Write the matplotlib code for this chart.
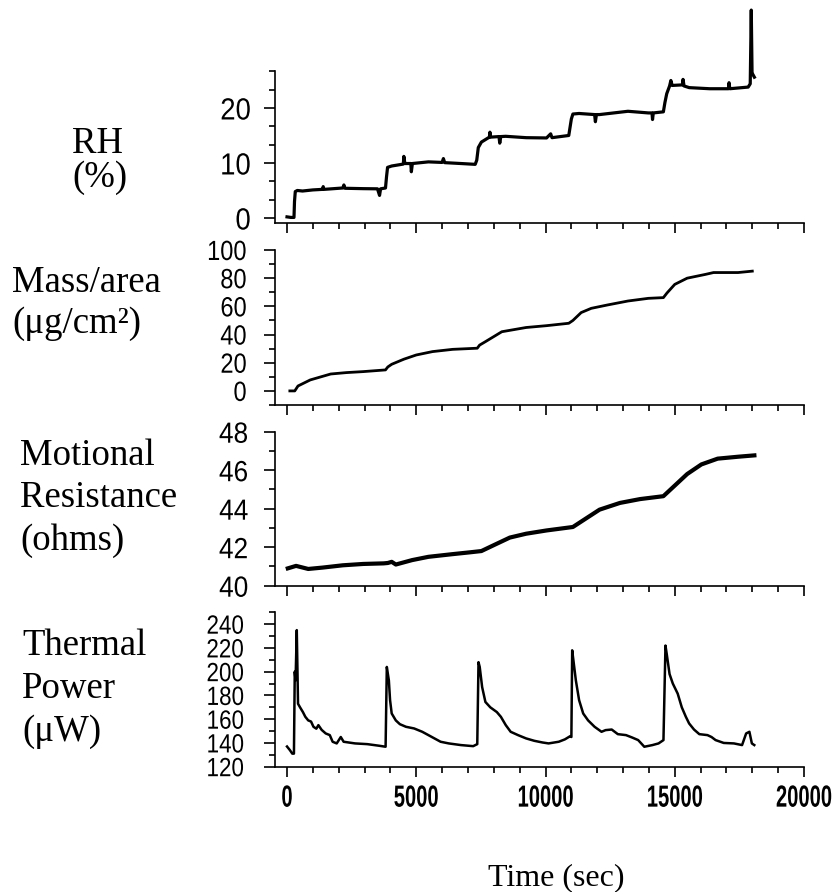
import matplotlib
matplotlib.use("Agg")
import matplotlib.pyplot as plt
from matplotlib.ticker import MultipleLocator, NullFormatter
from matplotlib.patheffects import AbstractPathEffect
from matplotlib.transforms import Affine2D

# ---------------- data ----------------
rh_t = [0, 150, 270, 290, 320, 400, 600, 1000, 1370, 1400, 1430, 2160, 2200, 2240,
        2950, 3500, 3580, 3620, 3810, 3850, 3890, 4050, 4500, 4520, 4560, 4790,
        4810, 4850, 5470, 6000, 6050, 6100, 6730, 7280, 7340, 7400, 7520, 7830,
        7850, 7880, 8200, 8230, 8270, 8460, 9250, 10040, 10200, 10250, 10900,
        10950, 11000, 11060, 11300, 11900, 11930, 11970, 12090, 13190, 13980,
        14120, 14140, 14170, 14560, 14620, 14690, 14800, 14850, 14900, 15300,
        15320, 15360, 15560, 16350, 17080, 17100, 17130, 17840, 17920, 17960,
        17990, 18010, 18080]
rh = [0.2, 0.1, 0.1, 3.0, 4.8, 5.0, 4.9, 5.1, 5.2, 5.7, 5.2, 5.45, 6.0, 5.4,
      5.33, 5.3, 4.1, 5.3, 5.45, 7.5, 9.2, 9.45, 9.8, 11.2, 9.9, 9.9,
      8.4, 9.9, 10.2, 10.1, 10.8, 10.06, 9.9, 9.75, 10.5, 12.8, 13.8, 14.7,
      15.6, 14.7, 14.8, 13.6, 14.8, 14.85, 14.6, 14.55, 15.3, 14.6, 15.0,
      16.5, 18.0, 18.9, 19.0, 18.8, 17.5, 18.8, 18.8, 19.4, 19.1,
      19.1, 17.9, 19.1, 19.3, 21.0, 22.6, 24.0, 25.0, 24.1, 24.2,
      25.2, 24.0, 23.7, 23.5, 23.5, 24.6, 23.5, 23.8, 24.4, 37.8,
      26.5, 26.2, 25.6]

mass_t = [110, 300, 425, 900, 1690, 2300, 2950, 3810, 3900, 4050, 4520, 5000,
          5630, 6410, 7360, 7450, 7680, 8310, 9250, 10040, 10900, 11060, 11380,
          11770, 12400, 13190, 13980, 14560, 14700, 15000, 15480, 16190, 16500,
          17450, 18000]
mass = [0, 0, 3.5, 7.8, 12, 13.0, 13.7, 14.9, 17.0, 18.9, 22.5, 25.5,
        27.9, 29.5, 30.3, 32.5, 35, 42, 45, 46.3, 48, 50, 55.6,
        58.6, 61, 63.8, 65.7, 66.2, 69.5, 75.6, 80, 82.7, 84,
        84, 85]

res_t = [30, 350, 820, 1370, 2160, 2950, 3740, 3900, 4050, 4210, 4840, 5470,
         6410, 7050, 7520, 7990, 8620, 9250, 10040, 11060, 11460, 12090, 12880,
         13660, 14560, 15000, 15480, 16030, 16660, 17450, 18080]
res = [40.9, 41.03, 40.87, 40.94, 41.06, 41.13, 41.16, 41.18, 41.24, 41.1,
       41.33, 41.5, 41.64, 41.73, 41.8, 42.1, 42.5, 42.7, 42.87, 43.05, 43.4,
       43.95, 44.3, 44.5, 44.65, 45.2, 45.8, 46.3, 46.6, 46.7, 46.77]

pow_t = [0, 110, 205, 268, 300, 331, 378, 426, 504, 615, 709, 820, 930, 1024,
         1135, 1214, 1340, 1497, 1655, 1765, 1923, 2080, 2191, 2632, 3105, 3578,
         3814, 3861, 3940, 3987, 4050, 4208, 4366, 4602, 4917, 5232, 5469, 5705,
         5942, 6257, 6730, 7203, 7360, 7408, 7455, 7549, 7675, 7864, 8117, 8274,
         8463, 8652, 8936, 9251, 9567, 9882, 10118, 10512, 10749, 10954, 11001,
         11032, 11080, 11174, 11300, 11458, 11647, 11899, 12167, 12325, 12561,
         12798, 13113, 13349, 13585, 13822, 14137, 14373, 14563, 14641, 14689,
         14799, 14925, 15114, 15272, 15430, 15556, 15745, 15950, 16265, 16422,
         16580, 16895, 17289, 17604, 17762, 17888, 17983, 18077]
power = [137, 134, 131, 131, 200, 192.7, 235, 173, 170, 166, 162, 159, 158,
         153.6, 152, 155, 151, 148, 146.6, 141, 139.6, 145, 141, 139.6, 139,
         137.6, 136.8, 204, 192.7, 176, 164.8, 159, 155.8, 153.6, 152.2, 149.4,
         146.6, 143.8, 141, 139.6, 138.2, 137.3, 139, 208, 204, 187, 174.5, 170,
         166, 162, 155, 149.4, 146.6, 143.8, 141.8, 140.4, 139.6, 141, 143,
         145.7, 145, 218, 209.5, 192.7, 176, 164.8, 159, 153.6, 149.4, 150.8,
         151.3, 147.4, 146.6, 144.6, 142.4, 136.8, 138.2, 139.6, 142.4, 222, 215,
         198, 190, 181.5, 170, 162, 156.4, 151.3, 147.4, 146.6, 145, 142.4, 140,
         139.6, 138.2, 148, 149.4, 139.6, 138.2]

x_major_ticks = [0, 5000, 10000, 15000, 20000]
x_tick_labels = ["0", "5000", "10000", "15000", "20000"]


# Horizontal squeeze of text glyphs (text stays a real Text artist)
class HSqueeze(AbstractPathEffect):
    def __init__(self, sx, anchor="center"):
        super().__init__()
        self.sx = sx
        self.anchor = anchor

    def draw_path(self, renderer, gc, tpath, affine, rgbFace=None):
        ext = tpath.get_extents()
        cx = (ext.x0 + ext.x1) / 2 if self.anchor == "center" else ext.x1
        t = Affine2D().translate(-cx, 0).scale(self.sx, 1).translate(cx, 0) + affine
        renderer.draw_path(gc, tpath, t, rgbFace)


# ---------------- layout ----------------
W, H = 838, 892
fig = plt.figure(figsize=(W / 100, H / 100), dpi=100)

XL, XR = 274.6, 804.0
XLIM = (-480, 20000)


def rect(top, bottom):
    return [XL / W, 1 - bottom / H, (XR - XL) / W, (bottom - top) / H]


panels = [
    dict(top=71.3, bottom=223.3, ylim=(-0.97, 26.67), major=10, minor=10 / 3,
         t=rh_t, y=rh, lw=2.3, fs=22, pad=9, sq=0.9),
    dict(top=250, bottom=405, ylim=(-10, 100), major=20, minor=10,
         t=mass_t, y=mass, lw=2.0, fs=20, pad=12, sq=0.85),
    dict(top=431.7, bottom=585.7, ylim=(40, 48), major=2, minor=1,
         t=res_t, y=res, lw=3.0, fs=21, pad=11, sq=0.9),
    dict(top=612.3, bottom=766.7, ylim=(120, 250), major=20, minor=10,
         t=pow_t, y=power, lw=1.8, fs=19, pad=14, sq=0.85),
]

tick_font = ["Liberation Sans", "DejaVu Sans"]

axes = []
for i, p in enumerate(panels):
    ax = fig.add_axes(rect(p["top"], p["bottom"]))
    ax.plot(p["t"], p["y"], color="black", lw=p["lw"], clip_on=False,
            solid_joinstyle="round")
    ax.set_xlim(*XLIM)
    ax.set_ylim(*p["ylim"])
    for s in ("top", "right"):
        ax.spines[s].set_visible(False)
    for s in ("left", "bottom"):
        ax.spines[s].set_linewidth(1.2)
    ax.yaxis.set_major_locator(MultipleLocator(p["major"]))
    ax.yaxis.set_minor_locator(MultipleLocator(p["minor"]))
    ax.xaxis.set_major_locator(MultipleLocator(5000))
    ax.xaxis.set_minor_locator(MultipleLocator(1000))
    ax.tick_params(axis="y", which="major", direction="out", length=8,
                   width=1.2, pad=p["pad"], labelsize=p["fs"])
    ax.tick_params(axis="y", which="minor", direction="out", length=4.5,
                   width=1.2)
    ax.tick_params(axis="x", which="major", direction="out", length=7.2,
                   width=1.2)
    ax.tick_params(axis="x", which="minor", direction="out", length=4.3,
                   width=1.2)
    for lab in ax.get_yticklabels():
        lab.set_family(tick_font)
        lab.set_path_effects([HSqueeze(p["sq"], anchor="right")])
    if i < 3:
        ax.xaxis.set_major_formatter(NullFormatter())
    else:
        ax.set_xticks(x_major_ticks)
        ax.set_xticklabels(x_tick_labels, family=tick_font,
                           fontweight="bold", fontsize=22)
        for lab in ax.get_xticklabels():
            lab.set_path_effects([HSqueeze(0.66)])
        ax.tick_params(axis="x", which="major", pad=5)
    axes.append(ax)

# ---------------- left-hand labels ----------------
serif = ["Liberation Serif", "DejaVu Serif"]
left_labels = [
    ("RH", 72, 152.7),
    ("(%)", 72, 187),
    ("Mass/area", 12, 291.7),
    ("(\u03bcg/cm\u00b2)", 12, 333),
    ("Motional", 20, 465),
    ("Resistance", 20, 507),
    ("(ohms)", 20, 550),
    ("Thermal", 22, 655),
    ("Power", 22, 698),
    ("(\u03bcW)", 22, 741),
]
for s, x, y in left_labels:
    fig.text(x / W, 1 - y / H, s, ha="left", va="baseline",
             family=serif, fontsize=26.5)

fig.text(488 / W, 1 - 885 / H, "Time (sec)", ha="left", va="baseline",
         family=serif, fontsize=23)

fig.savefig("out.png", dpi=100)
